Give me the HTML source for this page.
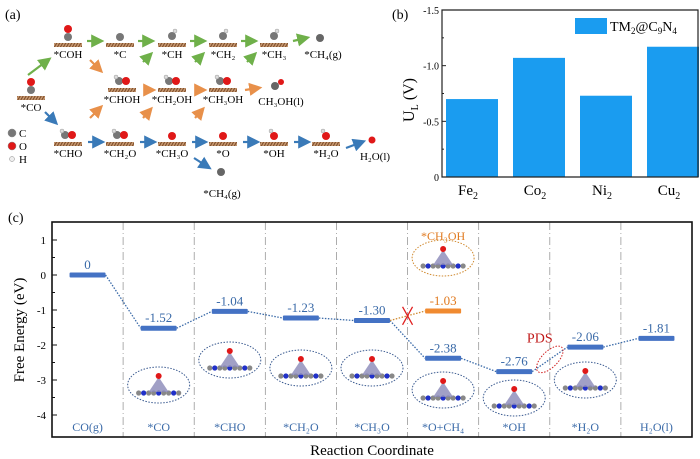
<!DOCTYPE html>
<html><head><meta charset="utf-8">
<style>
body{margin:0;background:#fff;}
svg{display:block;font-family:"Liberation Serif",serif;}
</style></head>
<body>
<svg id="fig" width="700" height="459" viewBox="0 0 700 459" xmlns="http://www.w3.org/2000/svg">
<defs>
<pattern id="hatch" width="3" height="5" patternUnits="userSpaceOnUse" patternTransform="skewX(-30)">
<rect width="3" height="5" fill="#c89a72"/><rect width="1.2" height="5" fill="#7a4a28"/></pattern>
<marker id="ag" markerWidth="6" markerHeight="6" refX="4" refY="3" orient="auto"><path d="M0,0L6,3L0,6z" fill="#6fb04a"/></marker>
<marker id="ao" markerWidth="6" markerHeight="6" refX="4" refY="3" orient="auto"><path d="M0,0L6,3L0,6z" fill="#e8904a"/></marker>
<marker id="ab" markerWidth="6" markerHeight="6" refX="4" refY="3" orient="auto"><path d="M0,0L6,3L0,6z" fill="#3a7ab8"/></marker>
</defs>
<g id="panel-a"></g>
<g id="panel-b"></g>
<g id="panel-c"></g>
</svg>
<script>
// ---- Panel (b) data ----
const bCategories = ["Fe", "Co", "Ni", "Cu"];
const bValues = [-0.70, -1.07, -0.73, -1.17];
const bTicks = [0, -0.5, -1.0, -1.5];
const bTickLabels = ["0", "-0.5", "-1.0", "-1.5"];
// ---- Panel (c) data ----
const cSteps = ["CO(g)", "*CO", "*CHO", "*CH\u2082O", "*CH\u2083O", "*O+CH\u2084", "*OH", "*H\u2082O", "H\u2082O(l)"];
const cEnergies = [0, -1.52, -1.04, -1.23, -1.30, -2.38, -2.76, -2.06, -1.81];
const cEnergyLabels = ["0", "-1.52", "-1.04", "-1.23", "-1.30", "-2.38", "-2.76", "-2.06", "-1.81"];
const cBranchStep = [5];
const cBranchEnergy = [-1.03];
const cBranchLabel = ["-1.03"];
const cTicks = [1, 0, -1, -2, -3, -4];

const NS = "http://www.w3.org/2000/svg";
function mk(parent, tag, attrs, text){
  const e = document.createElementNS(NS, tag);
  for (const k in attrs) e.setAttribute(k, attrs[k]);
  if (text !== undefined) e.textContent = text;
  parent.appendChild(e); return e;
}

// ===== Panel (b) =====
(function(){
  const g = document.getElementById('panel-b');
  const L=442, R=698, T=10, B=177;
  const y = v => B + v/1.5*(B-T);  // v negative -> up
  const x = i => 472 + i*67;
  let t = mk(g,'text',{x:392,y:19,'font-size':14});
    t.textContent='(b)';
  bValues.forEach((v,i)=>{
    const r = mk(g,'rect',{x:x(i)-26,y:y(v),width:52,height:B-y(v),fill:'#1a9cf0'});
     
    const lab = mk(g,'text',{x:x(i)-4,y:195,'font-size':15,'text-anchor':'middle'});
     
    lab.textContent = bCategories[i];
    mk(lab,'tspan',{'font-size':10,dy:4},'2');
  });
  const ax = mk(g,'path',{d:`M${L},${T}V${B}H${R}V${T}Z`,fill:'none',stroke:'#222','stroke-width':1.2});
   
  bTicks.forEach((v,i)=>{
    mk(g,'line',{x1:L,x2:L+4,y1:y(v),y2:y(v),stroke:'#222'});
    mk(g,'line',{x1:L,x2:L+2,y1:y(v-0.25),y2:y(v-0.25),stroke:'#222'});
    const tl = mk(g,'text',{x:L-3,y:y(v)+4,'font-size':10,'text-anchor':'end'},bTickLabels[i]);
     
  });
  const yt = mk(g,'text',{transform:'translate(414,100) rotate(-90)','font-size':16,'text-anchor':'middle'});
   
  yt.textContent='U'; mk(yt,'tspan',{'font-size':10,dy:4},'L'); mk(yt,'tspan',{dy:-4},' (V)');
  const lr = mk(g,'rect',{x:575,y:18,width:32,height:16,fill:'#1a9cf0'});
   
  const lt = mk(g,'text',{x:610,y:31,'font-size':14});
   
  lt.textContent='TM'; mk(lt,'tspan',{'font-size':9,dy:3},'2'); mk(lt,'tspan',{dy:-3},'@C');
  mk(lt,'tspan',{'font-size':9,dy:3},'9'); mk(lt,'tspan',{dy:-3},'N'); mk(lt,'tspan',{'font-size':9,dy:3},'4');
})();

// ===== Panel (c) =====
(function(){
  const g = document.getElementById('panel-c');
  const L=52, R=692, T=222, B=437;
  const y = v => 275 - v*35;
  const cw = (R-L)/cSteps.length;
  const cx = i => L + cw*(i+0.5);
  const hw = 18;
  let t = mk(g,'text',{x:8,y:222,'font-size':14});
    t.textContent='(c)';
  // dividers
  for(let i=1;i<cSteps.length;i++){
    const d = mk(g,'line',{x1:L+cw*i,x2:L+cw*i,y1:T,y2:B,stroke:'#999','stroke-width':0.8,'stroke-dasharray':'8,3,1,3'});
     
  }
  // molecule insets (decorative)
  const insetY=[null,385,360,368,368,390,398,380,null];
  const insetTopY = 258;
  function inset(xc,yc,col){
    const e=mk(g,'ellipse',{cx:xc,cy:yc,rx:31,ry:18,fill:'none',stroke:col,'stroke-width':1,'stroke-dasharray':'1.5,1.5'});
     
    for(let k=-4;k<=4;k++) mk(g,'circle',{cx:xc+k*5,cy:yc+8,r:2.6,fill:(k%3===0?'#2030c8':'#888')});
    mk(g,'path',{d:`M${xc-10},${yc+7}L${xc},${yc-8}L${xc+10},${yc+7}Z`,fill:'#8a88b8',opacity:0.8});
    mk(g,'circle',{cx:xc,cy:yc-9,r:3,fill:'#e01818'});
  }
  insetY.forEach((v,i)=>{ if(v) inset(cx(i),v,'#3a5a90'); });
  inset(cx(5),insetTopY,'#d08a30');
  // connectors
  for(let i=0;i<cEnergies.length-1;i++){
    if(i===4){
      const c = mk(g,'line',{x1:cx(4)+hw,y1:y(cEnergies[4]),x2:cx(5)-hw,y2:y(cEnergies[5]),stroke:'#3a6aa8','stroke-width':1.3,'stroke-dasharray':'1.5,1.5'});
       
      continue;
    }
    const c = mk(g,'line',{x1:cx(i)+hw,y1:y(cEnergies[i]),x2:cx(i+1)-hw,y2:y(cEnergies[i+1]),stroke:'#3a6aa8','stroke-width':1.3,'stroke-dasharray':'1.5,1.5'});
     
  }
  // branch connector
  const bc = mk(g,'line',{x1:cx(4)+hw,y1:y(cEnergies[4]),x2:cx(cBranchStep[0])-hw,y2:y(cBranchEnergy[0]),stroke:'#d08a30','stroke-width':1.3,'stroke-dasharray':'1.5,1.5'});
   
  const xm = (cx(4)+hw+cx(5)-hw)/2, ym=(y(cEnergies[4])+y(cBranchEnergy[0]))/2;
  const xx = mk(g,'path',{d:`M${xm-5},${ym-9}L${xm+5},${ym+9}M${xm+5},${ym-9}L${xm-5},${ym+9}`,stroke:'#e02020','stroke-width':1.3});
   
  // levels
  cEnergies.forEach((v,i)=>{
    const r = mk(g,'rect',{x:cx(i)-hw,y:y(v)-2.5,width:2*hw,height:5,rx:1,fill:'#4472c4'});
     
    const tl = mk(g,'text',{x:cx(i),y:y(v)-6,'font-size':13,fill:'#3a6aa8','text-anchor':'middle'},cEnergyLabels[i]);
     
    const sl = mk(g,'text',{x:cx(i),y:431,'font-size':12,fill:'#3a6aa8','text-anchor':'middle'},cSteps[i]);
     
  });
  cBranchEnergy.forEach((v,i)=>{
    const s=cBranchStep[i];
    const r = mk(g,'rect',{x:cx(s)-hw,y:y(v)-2.5,width:2*hw,height:5,rx:1,fill:'#f08a30'});
     
    const tl = mk(g,'text',{x:cx(s),y:y(v)-6,'font-size':13,fill:'#e07a20','text-anchor':'middle'},cBranchLabel[i]);
     
    const nl = mk(g,'text',{x:cx(s),y:240,'font-size':12,fill:'#e07a20','text-anchor':'middle'},'*CH\u2083OH');
     
  });
  // PDS
  const px=(cx(6)+hw+cx(7)-hw)/2, py=(y(cEnergies[6])+y(cEnergies[7]))/2;
  const pe = mk(g,'ellipse',{cx:px,cy:py,rx:8,ry:17,transform:`rotate(45 ${px} ${py})`,fill:'none',stroke:'#d02020','stroke-width':1,'stroke-dasharray':'1.5,1.5'});
   
  const pt = mk(g,'text',{x:px-10,y:py-17,'font-size':14,fill:'#c01818','text-anchor':'middle'},'PDS');
   
  // frame + ticks
  const fr = mk(g,'rect',{x:L,y:T,width:R-L,height:B-T,fill:'none',stroke:'#111','stroke-width':1.6});
   
  cTicks.forEach(v=>{
    mk(g,'line',{x1:L,x2:L+5,y1:y(v),y2:y(v),stroke:'#111'});
    if(v>-4) mk(g,'line',{x1:L,x2:L+3,y1:y(v-0.5),y2:y(v-0.5),stroke:'#111'});
    const tl = mk(g,'text',{x:L-6,y:y(v)+4,'font-size':11,'text-anchor':'end'},String(v));
     
  });
  const yt = mk(g,'text',{transform:'translate(24,330) rotate(-90)','font-size':15,'text-anchor':'middle'},'Free Energy (eV)');
   
  const xt = mk(g,'text',{x:372,y:455,'font-size':15,'text-anchor':'middle'},'Reaction Coordinate');
   
})();

// ===== Panel (a) schematic =====
(function(){
  const g = document.getElementById('panel-a');
  let t = mk(g,'text',{x:5,y:19,'font-size':14});
    t.textContent='(a)';
  function site(x,y,label,mol){
    const s = mk(g,'rect',{x:x,y:y,width:28,height:4,fill:'url(#hatch)'});
     
    if(mol==='C') mk(g,'circle',{cx:x+14,cy:y-6,r:4,fill:'#777'});
    if(mol==='O') mk(g,'circle',{cx:x+14,cy:y-6,r:4,fill:'#e01818'});
    if(mol==='CO'){mk(g,'circle',{cx:x+14,cy:y-6,r:4,fill:'#777'});mk(g,'circle',{cx:x+14,cy:y-14,r:4,fill:'#e01818'});}
    if(mol==='CX'){mk(g,'circle',{cx:x+11,cy:y-7,r:4,fill:'#777'});mk(g,'circle',{cx:x+18,cy:y-7,r:4,fill:'#e01818'});mk(g,'circle',{cx:x+8,cy:y-11,r:2,fill:'#ddd',stroke:'#999','stroke-width':0.5});}
    if(mol==='CH'){mk(g,'circle',{cx:x+14,cy:y-7,r:4,fill:'#777'});mk(g,'circle',{cx:x+17,cy:y-12,r:2,fill:'#ddd',stroke:'#999','stroke-width':0.5});}
    if(mol==='OH'){mk(g,'circle',{cx:x+14,cy:y-6,r:4,fill:'#e01818'});mk(g,'circle',{cx:x+11,cy:y-11,r:2,fill:'#ddd',stroke:'#999','stroke-width':0.5});}
    if(label){const l=mk(g,'text',{x:x+14,y:y+15,'font-size':11,'text-anchor':'middle'},label);
       }
  }
  site(54,43,'*COH','CO'); site(106,43,'*C','C'); site(158,43,'*CH','CH'); site(209,43,'*CH\u2082','CH'); site(260,43,'*CH\u2083','CH');
  site(108,88,'*CHOH','CX'); site(158,88,'*CH\u2082OH','CX'); site(209,88,'*CH\u2083OH','CX');
  site(17,96,'*CO','CO');
  site(54,142,'*CHO','CX'); site(106,142,'*CH\u2082O','CX'); site(158,142,'*CH\u2083O','O'); site(209,142,'*O','O'); site(260,142,'*OH','OH'); site(312,142,'*H\u2082O','OH');
  function lab(x,y,s){const l=mk(g,'text',{x:x,y:y,'font-size':11,'text-anchor':'middle'},s);
     }
  lab(323,58,'*CH\u2084(g)'); lab(281,105,'CH\u2083OH(l)'); lab(375,160,'H\u2082O(l)'); lab(222,197,'*CH\u2084(g)');
  mk(g,'circle',{cx:320,cy:38,r:4,fill:'#666'}); mk(g,'circle',{cx:275,cy:86,r:4,fill:'#666'});mk(g,'circle',{cx:281,cy:82,r:3,fill:'#e01818'});
  mk(g,'circle',{cx:372,cy:140,r:3.5,fill:'#e01818'}); mk(g,'circle',{cx:221,cy:172,r:4,fill:'#666'});
  function arr(x1,y1,x2,y2,c){const a=mk(g,'line',{x1,y1,x2,y2,stroke:c==='g'?'#6fb04a':c==='o'?'#e8904a':'#3a7ab8','stroke-width':2.2,'marker-end':'url(#a'+c+')'});
     }
  [[87,41,100],[138,41,151],[190,41,203],[241,41,254]].forEach(a=>arr(a[0],a[1],a[2],a[1],'g'));
  arr(293,41,306,38,'g'); arr(28,75,48,60,'g');
  [[143,62,150,55],[195,62,202,55],[247,62,254,55]].forEach(a=>arr(a[0],a[1],a[2],a[3],'g'));
  arr(90,60,100,70,'o'); arr(145,90,152,90,'o'); arr(196,90,203,90,'o'); arr(245,90,258,88,'o');
  [[90,118,100,108],[143,118,150,110],[195,118,202,110]].forEach(a=>arr(a[0],a[1],a[2],a[3],'o'));
  arr(45,112,55,122,'b');
  [[88,142,101],[140,142,153],[192,142,204],[243,142,256],[294,142,307]].forEach(a=>arr(a[0],a[1],a[2],a[1],'b'));
  arr(346,148,362,142,'b'); arr(194,158,208,167,'b');
  // legend
  [['#777','C',137],['#e01818','O',150],['#eee','H',163]].forEach(d=>{
    const c=mk(g,'circle',{cx:12,cy:d[2]-4,r:d[1]==='H'?2.5:4,fill:d[0],stroke:'#888','stroke-width':0.5});
     
    const l=mk(g,'text',{x:19,y:d[2],'font-size':11},d[1]);
     
  });
})();
</script>
</body></html>
